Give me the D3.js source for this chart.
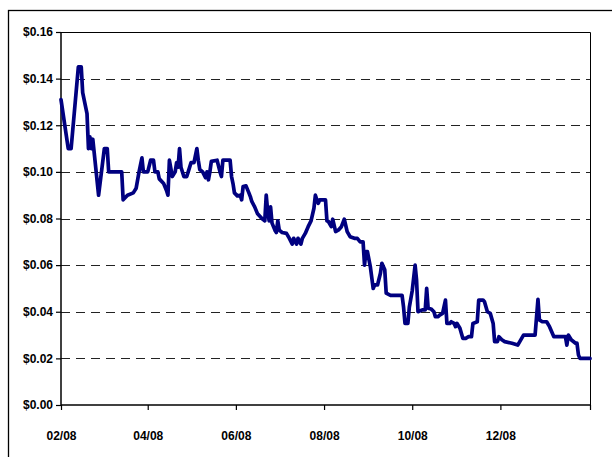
<!DOCTYPE html>
<html>
<head>
  <meta charset="utf-8">
  <title>Share price</title>
  <script src="https://d3js.org/d3.v7.min.js"></script>
  <style>
    body { margin: 0; background: #fff; }
  </style>
</head>
<body>
  <script>
    // daily closing price
    const dates = [
      "2008-02-01", "2008-02-06", "2008-02-08", "2008-02-13", "2008-02-15", "2008-02-16", "2008-02-19", "2008-02-20",
      "2008-02-21", "2008-02-22", "2008-02-23", "2008-02-27", "2008-03-02", "2008-03-04", "2008-03-05", "2008-03-14",
      "2008-03-15", "2008-03-18", "2008-03-22", "2008-03-24", "2008-03-26", "2008-03-28", "2008-03-29", "2008-04-01",
      "2008-04-03", "2008-04-05", "2008-04-06", "2008-04-08", "2008-04-09", "2008-04-12", "2008-04-14", "2008-04-15",
      "2008-04-16", "2008-04-18", "2008-04-20", "2008-04-21", "2008-04-22", "2008-04-23", "2008-04-24", "2008-04-26",
      "2008-04-28", "2008-04-29", "2008-05-01", "2008-05-03", "2008-05-05", "2008-05-06", "2008-05-07", "2008-05-09",
      "2008-05-11", "2008-05-12", "2008-05-13", "2008-05-14", "2008-05-15", "2008-05-19", "2008-05-21", "2008-05-22",
      "2008-05-23", "2008-05-28", "2008-05-29", "2008-05-30", "2008-05-31", "2008-06-02", "2008-06-04", "2008-06-05",
      "2008-06-06", "2008-06-08", "2008-06-10", "2008-06-11", "2008-06-12", "2008-06-14", "2008-06-16", "2008-06-19",
      "2008-06-21", "2008-06-22", "2008-06-23", "2008-06-24", "2008-06-25", "2008-06-26", "2008-06-28", "2008-06-29",
      "2008-06-30", "2008-07-01", "2008-07-03", "2008-07-06", "2008-07-08", "2008-07-10", "2008-07-11", "2008-07-13",
      "2008-07-14", "2008-07-16", "2008-07-17", "2008-07-19", "2008-07-21", "2008-07-23", "2008-07-25", "2008-07-26",
      "2008-07-27", "2008-07-28", "2008-07-29", "2008-08-02", "2008-08-03", "2008-08-04", "2008-08-06", "2008-08-07",
      "2008-08-09", "2008-08-11", "2008-08-13", "2008-08-15", "2008-08-17", "2008-08-19", "2008-08-22", "2008-08-24",
      "2008-08-26", "2008-08-28", "2008-08-29", "2008-08-30", "2008-08-31", "2008-09-02", "2008-09-04", "2008-09-05",
      "2008-09-07", "2008-09-09", "2008-09-10", "2008-09-12", "2008-09-13", "2008-09-16", "2008-09-24", "2008-09-25",
      "2008-09-26", "2008-09-28", "2008-09-29", "2008-10-01", "2008-10-03", "2008-10-04", "2008-10-05", "2008-10-08",
      "2008-10-10", "2008-10-11", "2008-10-12", "2008-10-14", "2008-10-16", "2008-10-17", "2008-10-19", "2008-10-20",
      "2008-10-22", "2008-10-24", "2008-10-25", "2008-10-27", "2008-10-28", "2008-10-30", "2008-10-31", "2008-11-01",
      "2008-11-03", "2008-11-05", "2008-11-07", "2008-11-09", "2008-11-11", "2008-11-12", "2008-11-15", "2008-11-16",
      "2008-11-19", "2008-11-20", "2008-11-22", "2008-11-24", "2008-11-26", "2008-11-27", "2008-11-29", "2008-11-30",
      "2008-12-02", "2008-12-04", "2008-12-09", "2008-12-13", "2008-12-17", "2008-12-25", "2008-12-27", "2008-12-28",
      "2008-12-30", "2009-01-02", "2009-01-04", "2009-01-07", "2009-01-15", "2009-01-16", "2009-01-17", "2009-01-19",
      "2009-01-22", "2009-01-23", "2009-01-24", "2009-01-25", "2009-02-01"
    ];

    const prices = [
      0.131, 0.110, 0.110, 0.145, 0.145, 0.134, 0.125, 0.110,
      0.115, 0.110, 0.114, 0.090, 0.110, 0.110, 0.100, 0.100,
      0.088, 0.090, 0.091, 0.093, 0.100, 0.106, 0.100, 0.100,
      0.105, 0.105, 0.100, 0.100, 0.097, 0.095, 0.092, 0.090,
      0.105, 0.098, 0.100, 0.104, 0.102, 0.110, 0.102, 0.098,
      0.098, 0.100, 0.104, 0.104, 0.110, 0.105, 0.101, 0.100,
      0.0975, 0.100, 0.0966, 0.100, 0.1045, 0.105, 0.100, 0.098,
      0.105, 0.105, 0.098, 0.095, 0.091, 0.0897, 0.090, 0.088,
      0.0937, 0.094, 0.091, 0.0894, 0.0873, 0.085, 0.082, 0.080,
      0.079, 0.090, 0.083, 0.079, 0.085, 0.078, 0.075, 0.074,
      0.079, 0.075, 0.074, 0.0736, 0.0715, 0.069, 0.0715, 0.069,
      0.0715, 0.069, 0.0715, 0.0736, 0.0765, 0.079, 0.0844, 0.090,
      0.088, 0.0865, 0.088, 0.088, 0.079, 0.0787, 0.0765, 0.0797,
      0.0744, 0.0751, 0.0765, 0.0797, 0.0744, 0.0722, 0.0715, 0.0715,
      0.070, 0.070, 0.060, 0.0658, 0.0658, 0.0594, 0.050, 0.0515,
      0.0515, 0.0565, 0.0608, 0.058, 0.048, 0.047, 0.047, 0.042,
      0.035, 0.035, 0.042, 0.049, 0.060, 0.0536, 0.040, 0.0408,
      0.0408, 0.050, 0.0415, 0.0412, 0.040, 0.0379, 0.0379, 0.0386,
      0.0393, 0.045, 0.035, 0.035, 0.0357, 0.035, 0.0336, 0.035,
      0.0329, 0.0286, 0.0286, 0.0293, 0.0293, 0.035, 0.0357, 0.045,
      0.045, 0.0443, 0.040, 0.0393, 0.035, 0.0272, 0.0272, 0.0293,
      0.028, 0.0272, 0.0265, 0.0257, 0.030, 0.030, 0.0453, 0.0365,
      0.0357, 0.0357, 0.0336, 0.0293, 0.0293, 0.0257, 0.030, 0.028,
      0.0265, 0.0265, 0.0215, 0.020, 0.020
    ];

    const yTicks = [0, 0.02, 0.04, 0.06, 0.08, 0.10, 0.12, 0.14, 0.16];
    const xStart = "2008-02-01";
    const xEnd = "2009-02-01";

    const width = 612, height = 457;
    const margin = { top: 32, right: 22, bottom: 52, left: 61 };

    const parse = d3.timeParse("%Y-%m-%d");
    const data = dates.map((d, i) => ({ date: parse(d), value: prices[i] }));

    const svg = d3.select("body").append("svg")
      .attr("width", width)
      .attr("height", height);

    // outer chart frame
    svg.append("rect")
      .attr("x", 8.5).attr("y", 10.5)
      .attr("width", 640).attr("height", 480)
      .attr("fill", "none").attr("stroke", "#000").attr("stroke-width", 1.3);

    const x = d3.scaleTime()
      .domain([parse(xStart), parse(xEnd)])
      .range([margin.left, width - margin.right]);

    const y = d3.scaleLinear()
      .domain([0, 0.16])
      .range([height - margin.bottom, margin.top]);

    // dashed gridlines
    svg.append("g")
      .selectAll("line")
      .data(yTicks.filter(t => t > 0 && t < 0.16))
      .join("line")
      .attr("x1", margin.left).attr("x2", width - margin.right)
      .attr("y1", d => Math.round(y(d)) + 0.5).attr("y2", d => Math.round(y(d)) + 0.5)
      .attr("stroke", "#222").attr("stroke-dasharray", "9,6");

    // plot area border (top / right)
    svg.append("path")
      .attr("d", `M${margin.left},${margin.top + 0.5}H${width - margin.right + 0.5}V${height - margin.bottom}`)
      .attr("fill", "none").attr("stroke", "#000").attr("stroke-width", 1);

    const yAxis = svg.append("g")
      .attr("transform", `translate(${margin.left},0)`)
      .call(d3.axisLeft(y).tickValues(yTicks).tickSize(5).tickPadding(3).tickFormat(d3.format("$.2f")));

    // a tick every two months, starting at the first month
    const xTicks = d3.range(7).map(i => d3.timeMonth.offset(parse(xStart), 2 * i));
    const xAxis = svg.append("g")
      .attr("transform", `translate(0,${height - margin.bottom})`)
      .call(d3.axisBottom(x).tickValues(xTicks).tickSize(5).tickPadding(21)
        .tickFormat(d => +d === +parse(xEnd) ? "" : d3.timeFormat("%m/%y")(d)));

    [yAxis, xAxis].forEach(g => {
      g.selectAll(".domain").attr("stroke", "#000").attr("stroke-width", 1.5);
      g.selectAll(".tick line").attr("stroke", "#000").attr("stroke-width", 1.2);
      g.selectAll("text").attr("font-family", "Arial, 'Liberation Sans', sans-serif")
        .attr("font-weight", "bold").attr("font-size", 12).attr("fill", "#000");
    });
    yAxis.select(".domain").attr("d", `M0,${margin.top}V${height - margin.bottom}`);
    xAxis.select(".domain").attr("d", `M${margin.left},0H${width - margin.right}`);

    const line = d3.line()
      .x(d => x(d.date))
      .y(d => y(d.value));

    svg.append("path")
      .datum(data)
      .attr("d", line)
      .attr("fill", "none")
      .attr("stroke", "#000080")
      .attr("stroke-width", 3.7)
      .attr("stroke-linejoin", "round")
      .attr("stroke-linecap", "round");
  </script>
</body>
</html>
